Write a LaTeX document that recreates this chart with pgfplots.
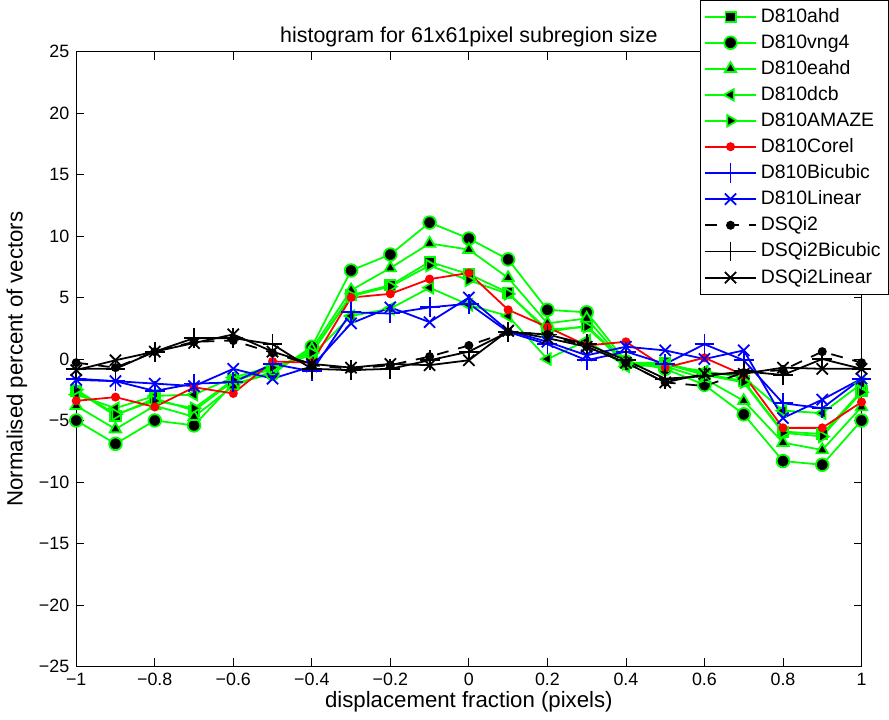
\documentclass[border=0pt]{standalone}
\usepackage{pgfplots}
\usepackage{pgfplotstable}
\pgfplotsset{compat=1.18}
\usepackage{fontspec}
\setmainfont{Liberation Sans}

\pgfplotstableread{
x     ahd   vng4  eahd  dcb   amaze corel bicub lin   dsq   dsqb  dsql
-1.0  -2.6  -5.0  -3.8  -2.9  -2.5  -3.4  -1.6  -1.7  -0.3  -0.8  -0.9
-0.9  -4.6  -6.9  -5.7  -4.0  -4.5  -3.1  -1.8  -1.8  -0.7  -0.8  -0.1
-0.8  -3.2  -5.0  -3.8  -3.0  -3.4  -3.9  -2.6  -2.0   0.6   0.6   0.6
-0.7  -4.2  -5.4  -4.7  -2.9  -4.0  -2.3  -2.0  -2.2   1.4   1.7   1.3
-0.6  -1.8  -2.0  -2.2  -1.5  -1.7  -2.8  -1.9  -0.8   1.5   1.7   2.0
-0.5  -0.8  -1.2  -1.0  -0.6  -0.7  -0.2  -0.4  -1.6   0.5   1.2   0.6
-0.4   0.6   1.0   0.8   0.3   0.5  -0.3  -1.0  -0.6  -0.5  -0.8  -0.4
-0.3   5.2   7.2   5.6   3.5   5.1   5.0   3.8   2.9  -0.8  -0.9  -0.7
-0.2   6.0   8.5   7.4   4.1   5.9   5.3   3.7   4.2  -0.5  -0.8  -0.4
-0.1   7.9  11.1   9.4   5.8   7.6   6.5   4.2   3.0   0.2  -0.1  -0.5
 0.0   6.9   9.8   8.9   4.4   6.4   7.0   4.5   5.0   1.1   0.6  -0.1
 0.1   5.4   8.1   6.6   3.5   5.3   4.0   2.2   2.3   2.2   2.2   2.3
 0.2   2.2   4.0   2.9   0.0   2.4   2.6   1.2   1.4   2.0   2.0   1.7
 0.3   2.7   3.8   3.3   1.5   2.6   1.1  -0.1   0.3   1.0   1.2   1.0
 0.4  -0.3  -0.2  -0.4  -0.6  -0.4   1.4   0.6   1.0  -0.3  -0.1  -0.3
 0.5  -0.3  -0.8  -0.6  -0.5  -0.4  -0.7  -0.4   0.7  -1.9  -1.6  -1.9
 0.6  -1.2  -2.1  -1.6  -1.0  -1.3   0.1   1.2   0.0  -2.2  -1.4  -1.2
 0.7  -1.8  -4.5  -3.4  -1.5  -1.9  -1.3  -0.1   0.7  -1.1  -1.0  -1.2
 0.8  -5.9  -8.3  -6.8  -4.2  -6.0  -5.6  -3.6  -4.8  -0.9  -1.3  -0.7
 0.9  -6.1  -8.6  -7.4  -4.4  -6.3  -5.6  -4.0  -3.3   0.6   0.0  -0.8
 1.0  -2.6  -5.0  -3.9  -2.0  -2.7  -3.5  -1.6  -1.6  -0.3  -0.8  -0.8
}\data

\begin{document}
\begin{tikzpicture}
\begin{axis}[
  scale only axis,
  width=396pt, height=310pt,
  xmin=-1, xmax=1, ymin=-25, ymax=25,
  xtick={-1,-0.8,-0.6,-0.4,-0.2,0,0.2,0.4,0.6,0.8,1},
  xticklabels={−1,−0.8,−0.6,−0.4,−0.2,0,0.2,0.4,0.6,0.8,1},
  ytick={-25,-20,-15,-10,-5,0,5,10,15,20,25},
  yticklabels={−25,−20,−15,−10,−5,0,5,10,15,20,25},
  tick align=inside,
  major tick length=4pt,
  tick style={black, line width=0.4pt},
  axis line style={line width=0.5pt},
  tick label style={font=\fontsize{9}{10}\selectfont},
  label style={font=\fontsize{11.2}{13}\selectfont},
  title style={font=\fontsize{10.8}{12}\selectfont, yshift=-7pt},
  title={histogram for 61x61pixel subregion size},
  xlabel={displacement fraction (pixels)},
  ylabel={Normalised percent of vectors},
  xlabel style={yshift=4pt},
  ylabel style={yshift=-1pt},
  legend style={at={(rel axis cs:1.035,1.084)}, anchor=north east,
    font=\fontsize{9.8}{11}\selectfont,
    row sep=0.6pt, inner xsep=2pt, inner ysep=2pt},
  legend cell align=left,
  legend image code/.code={
    \draw[mark repeat=2,mark phase=2,line width=0.9pt,#1] plot coordinates {(0cm,0cm) (0.45cm,0cm) (0.9cm,0cm)};
  },
]
\addplot[line width=0.9pt, color=green, mark=square*, mark size=2.6pt, mark options={solid, draw=green, fill=black}] table[x=x,y=ahd]{\data};
\addlegendentry{D810ahd}
\addplot[line width=0.9pt, color=green, mark=*, mark size=3.2pt, mark options={solid, draw=green, fill=black}] table[x=x,y=vng4]{\data};
\addlegendentry{D810vng4}
\addplot[line width=0.9pt, color=green, mark=triangle*, mark size=3.3pt, mark options={solid, draw=green, fill=black}] table[x=x,y=eahd]{\data};
\addlegendentry{D810eahd}
\addplot[line width=0.9pt, color=green, mark=triangle*, mark size=3.3pt, mark options={solid, draw=green, fill=black, rotate=90}] table[x=x,y=dcb]{\data};
\addlegendentry{D810dcb}
\addplot[line width=0.9pt, color=green, mark=triangle*, mark size=3.3pt, mark options={solid, draw=green, fill=black, rotate=-90}] table[x=x,y=amaze]{\data};
\addlegendentry{D810AMAZE}
\addplot[line width=0.9pt, color=red, mark=*, mark size=1.8pt, mark options={solid, draw=red, fill=red}] table[x=x,y=corel]{\data};
\addlegendentry{D810Corel}
\addplot[line width=0.9pt, color=blue, mark=+, mark size=5pt, mark options={solid, draw=blue}] table[x=x,y=bicub]{\data};
\addlegendentry{D810Bicubic}
\addplot[line width=0.9pt, color=blue, mark=x, mark size=4pt, mark options={solid, draw=blue}] table[x=x,y=lin]{\data};
\addlegendentry{D810Linear}
\addplot[line width=0.9pt, color=black, dash pattern=on 6pt off 5pt, mark=*, mark size=1.8pt, mark options={solid, fill=black}] table[x=x,y=dsq]{\data};
\addlegendentry{DSQi2}
\addplot[line width=0.9pt, color=black, mark=+, mark size=5pt, mark options={solid}] table[x=x,y=dsqb]{\data};
\addlegendentry{DSQi2Bicubic}
\addplot[line width=0.9pt, color=black, mark=x, mark size=4pt, mark options={solid}] table[x=x,y=dsql]{\data};
\addlegendentry{DSQi2Linear}
\end{axis}
\end{tikzpicture}
\end{document}
